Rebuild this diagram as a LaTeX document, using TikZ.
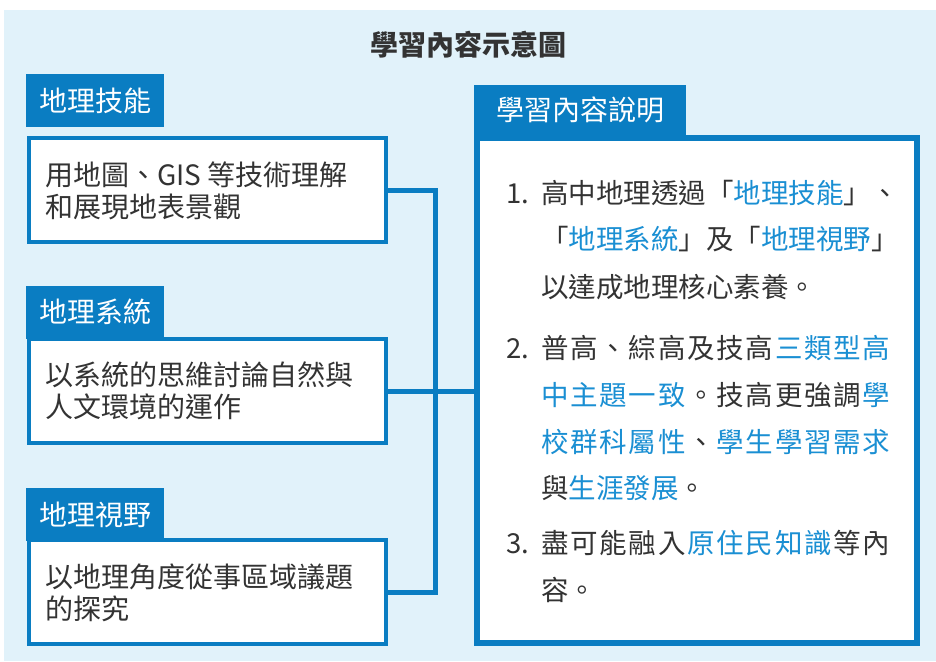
\documentclass[tikz,border=0pt]{standalone}
\usepackage{fontspec}
\setmainfont{Noto Sans CJK TC}
\definecolor{boxblue}{HTML}{0A7DC2}
\definecolor{hlblue}{HTML}{1A8FD3}
\definecolor{bgblue}{HTML}{E1F2FA}
\definecolor{txt}{HTML}{333333}
\newcommand{\hb}[1]{\textcolor{hlblue}{#1}}
\newcommand{\gp}{\hfil}
\tikzset{
 lbl/.style={fill=boxblue, text=white, inner sep=0pt, minimum width=138pt, minimum height=53pt, font=\fontsize{28}{32}\selectfont},
 cbox/.style={draw=boxblue, line width=4pt, fill=white, minimum width=357pt, minimum height=104pt, inner sep=0pt},
 ctext/.style={anchor=base west, inner sep=0pt, text=txt, font=\fontsize{28}{32}\selectfont},
 rtext/.style={anchor=base west, inner sep=0pt, text=txt, font=\fontsize{27.5}{32}\selectfont},
 conn/.style={draw=boxblue, line width=5pt},
}
\begin{document}
\begin{tikzpicture}[x=1pt,y=-1pt]
\useasboundingbox (0,0) rectangle (936,661);
\fill[bgblue] (4,10) rectangle (936,661);
\node[font=\bfseries\fontsize{28}{32}\selectfont, text=txt, inner sep=0pt] (title) at (468.5,45) {學習內容示意圖};
% left boxes
\node[cbox] (c1) at (207.5,190) {};
\node[lbl] (l1) at (95,100.5) {地理技能};
\node[ctext] (t1a) at (45,185) {用地圖、GIS 等技術理解};
\node[ctext] (t1b) at (45,217) {和展現地表景觀};
\node[cbox] (c2) at (207.5,391) {};
\node[lbl] (l2) at (95,312) {地理系統};
\node[ctext] (t2a) at (45,385.5) {以系統的思維討論自然與};
\node[ctext] (t2b) at (45,417) {人文環境的運作};
\node[cbox] (c3) at (207.5,592) {};
\node[lbl] (l3) at (95,514.5) {地理視野};
\node[ctext] (t3a) at (45,587) {以地理角度從事區域議題};
\node[ctext] (t3b) at (45,619) {的探究};
% right box
\node[draw=boxblue, line width=6pt, fill=white, minimum width=440pt, minimum height=505pt, inner sep=0pt] (rb) at (697,390.5) {};
\node[lbl, minimum width=212pt, minimum height=50pt] (rl) at (580,110) {學習內容說明};
% connectors
\coordinate (trunk) at (435.5,0);
\draw[conn] (c1.east) -- (c1.east -| trunk) -- (c3.east -| trunk) -- (c3.east);
\draw[conn] (c2.east) -- (c2.east -| rb.west);
% right text
\node[rtext] (n1) at (506,203.5) {1.};
\node[rtext] (r1) at (541,203.5) {高中地理透過「\hb{地理技能}」、};
\node[rtext] (r2) at (541,249.5) {「\hb{地理系統}」及「\hb{地理視野}」};
\node[rtext] (r3) at (541,297.5) {以達成地理核心素養。};
\node[rtext] (n2) at (506,358.5) {2.};
\node[rtext] (r4) at (541,358.5) {\makebox[349pt][s]{普\gp 高\gp 、\gp 綜\gp 高\gp 及\gp 技\gp 高\gp \hb{三\gp 類\gp 型\gp 高}}};
\node[rtext] (r5) at (541,405.5) {\makebox[349pt][s]{\hb{中\gp 主\gp 題\gp 一\gp 致}\gp 。\gp 技\gp 高\gp 更\gp 強\gp 調\gp \hb{學}}};
\node[rtext] (r6) at (541,452.5) {\makebox[349pt][s]{\hb{校\gp 群\gp 科\gp 屬\gp 性}\gp 、\gp \hb{學\gp 生\gp 學\gp 習\gp 需\gp 求}}};
\node[rtext] (r7) at (541,498.5) {與\hb{生涯發展}。};
\node[rtext] (n3) at (506,553.5) {3.};
\node[rtext] (r8) at (541,553.5) {\makebox[349pt][s]{盡\gp 可\gp 能\gp 融\gp 入\gp \hb{原\gp 住\gp 民\gp 知\gp 識}\gp 等\gp 內}};
\node[rtext] (r9) at (541,600.5) {容。};
\end{tikzpicture}
\end{document}
